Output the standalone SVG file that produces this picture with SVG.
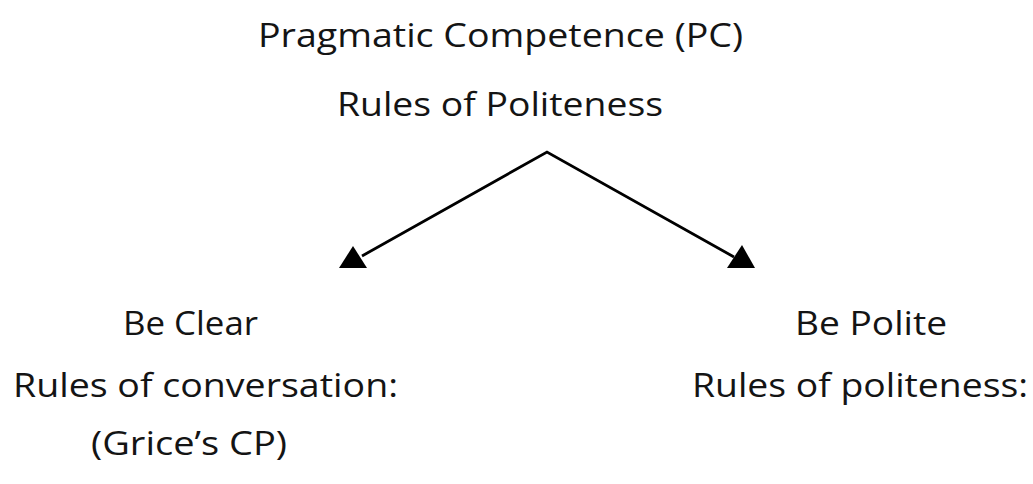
<svg xmlns="http://www.w3.org/2000/svg" width="1033" height="484" viewBox="0 0 1033 484">
<style>
  .t { font-family: "Open Sans", Lato, "Liberation Sans", sans-serif; font-size: 33px; fill: #141414; }
  .edge { stroke: #000; stroke-width: 2.8; fill: none; }
  .head { fill: #000; }
</style>
<rect width="1033" height="484" fill="#fff"/>
<g id="root">
  <text class="t" x="258" y="47" textLength="485" lengthAdjust="spacingAndGlyphs">Pragmatic Competence (PC)</text>
  <text class="t" x="337" y="116" textLength="326" lengthAdjust="spacingAndGlyphs">Rules of Politeness</text>
</g>
<g id="be-clear">
  <text class="t" x="123" y="335" textLength="135" lengthAdjust="spacingAndGlyphs">Be Clear</text>
  <text class="t" x="13" y="397" textLength="385" lengthAdjust="spacingAndGlyphs">Rules of conversation:</text>
  <text class="t" x="91" y="455" textLength="196" lengthAdjust="spacingAndGlyphs">(Grice’s CP)</text>
</g>
<g id="be-polite">
  <text class="t" x="795" y="335" textLength="152" lengthAdjust="spacingAndGlyphs">Be Polite</text>
  <text class="t" x="692" y="397" textLength="336" lengthAdjust="spacingAndGlyphs">Rules of politeness:</text>
</g>
<g id="connectors">
  <polyline class="edge" points="362,256 547,152 734,257"/>
  <polygon class="head" points="339,268 367,268 353,246"/>
  <polygon class="head" points="727,268 755,268 742,245"/>
</g>
</svg>
